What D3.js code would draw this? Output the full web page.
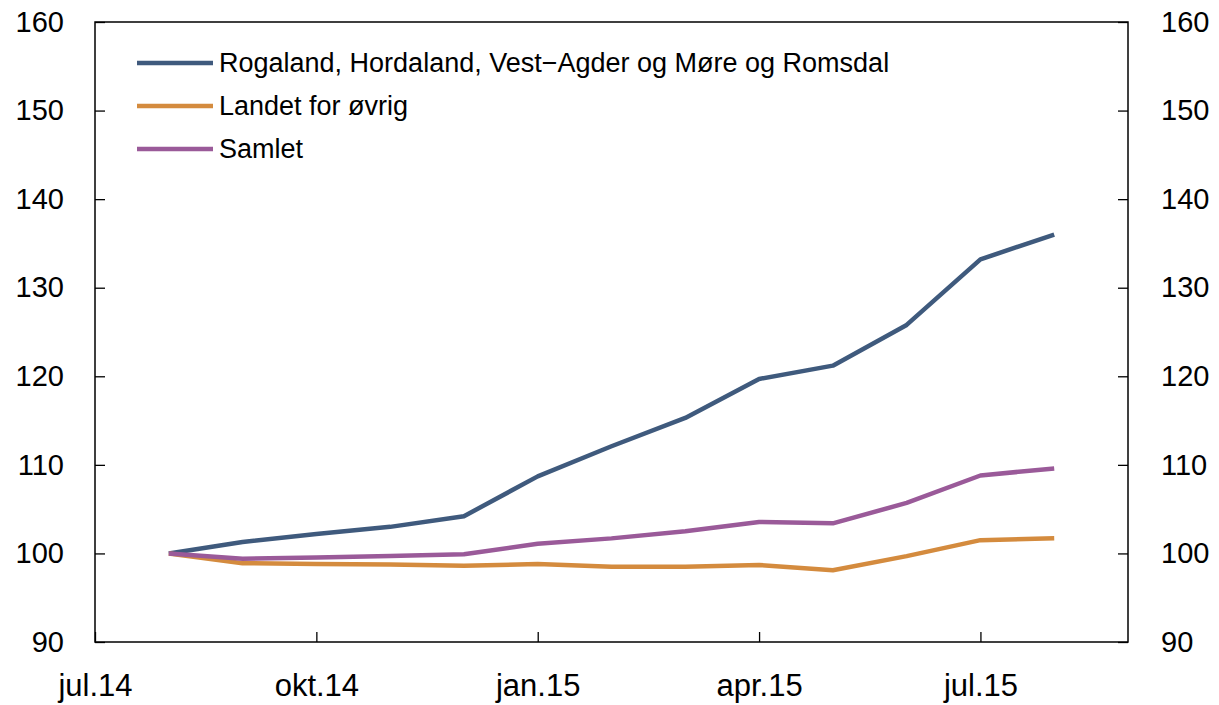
<!DOCTYPE html>
<html><head><meta charset="utf-8">
<script src="https://cdn.jsdelivr.net/npm/d3@7"></script>
<style>body{margin:0;background:#fff}svg{display:block}text{font-family:"Liberation Sans",Arial,Helvetica,sans-serif;fill:#000}</style>
</head><body>
<script>
// months since jul.14 (0 = jul.14)
const months = [1,2,3,4,5,6,7,8,9,10,11,12,13];
const seriesNames = ["Rogaland, Hordaland, Vest\u2212Agder og Møre og Romsdal","Landet for øvrig","Samlet"];
const rogaland = [100,101.3,102.2,103.0,104.2,108.7,112.1,115.3,119.7,121.2,125.8,133.2,136.0];
const landet   = [100,98.9,98.8,98.75,98.6,98.8,98.5,98.5,98.7,98.1,99.7,101.5,101.7];
const samlet   = [100,99.4,99.55,99.7,99.9,101.1,101.7,102.5,103.55,103.4,105.7,108.8,109.6];
const colors = ["#3f5a7d","#d48b3e","#9a5a99"];
const xTickVals = [0,3,6,9,12];
const xTickLabels = ["jul.14","okt.14","jan.15","apr.15","jul.15"];
const yTicks = [90,100,110,120,130,140,150,160];

const W=1219,H=705;
const m={l:95,r:W-1128,t:22,b:H-642};
const svg=d3.select("body").append("svg").attr("width",W).attr("height",H);
const x=d3.scaleLinear().domain([0,14]).range([m.l,W-m.r]);
const y=d3.scaleLinear().domain([90,160]).range([H-m.b,m.t]);

const gl=svg.append("g").attr("transform",`translate(${m.l},0)`)
  .call(d3.axisLeft(y).tickValues(yTicks).tickSizeInner(-10).tickSizeOuter(0).tickPadding(31));
const gr=svg.append("g").attr("transform",`translate(${W-m.r},0)`)
  .call(d3.axisRight(y).tickValues(yTicks).tickSizeInner(-10).tickSizeOuter(0).tickPadding(33));
const gb=svg.append("g").attr("transform",`translate(0,${H-m.b})`)
  .call(d3.axisBottom(x).tickValues(xTickVals).tickFormat((d,i)=>xTickLabels[i]).tickSizeInner(-10).tickSizeOuter(0).tickPadding(32));
[gl,gr,gb].forEach(g=>{
  g.selectAll(".domain").remove();
  g.selectAll("line").attr("stroke","#000").attr("stroke-width",1.3);
  g.attr("font-family",null);
});
gl.selectAll("text").attr("font-size",29);
gr.selectAll("text").attr("font-size",29);
gb.selectAll("text").attr("font-size",31).attr("dy","0.71em");
// frame
svg.append("rect").attr("x",m.l).attr("y",m.t).attr("width",W-m.r-m.l).attr("height",H-m.b-m.t)
  .attr("fill","none").attr("stroke","#000").attr("stroke-width",1.5);

const line=d3.line().x((d,i)=>x(months[i])).y(d=>y(d));
[rogaland,landet,samlet].forEach((s,k)=>{
  svg.append("path").datum(s).attr("d",line).attr("fill","none")
    .attr("stroke",colors[k]).attr("stroke-width",4.5).attr("stroke-linejoin","round");
});

// legend
const lg=svg.append("g");
seriesNames.forEach((n,k)=>{
  const ly=63+k*43;
  lg.append("line").attr("x1",137).attr("x2",213).attr("y1",ly).attr("y2",ly)
    .attr("stroke",colors[k]).attr("stroke-width",4.5);
  lg.append("text").attr("x",219).attr("y",ly).attr("dy","0.35em").attr("font-size",27).text(n);
});
</script>
</body></html>
